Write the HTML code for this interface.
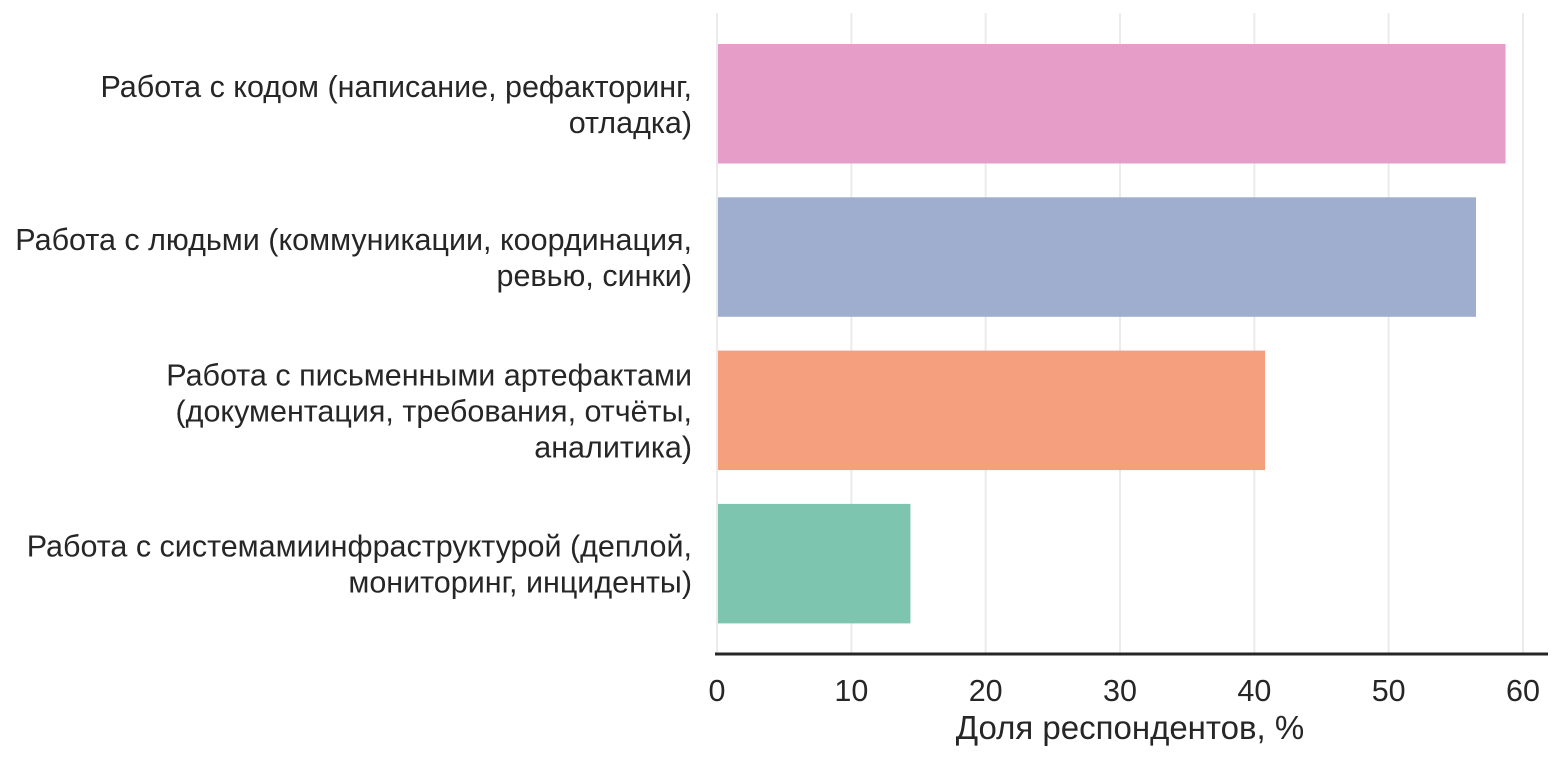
<!DOCTYPE html>
<html><head><meta charset="utf-8"><style>
html,body{margin:0;padding:0;background:#fff;}
svg{display:block;font-family:"Liberation Sans",Arial,sans-serif;}
</style></head><body>
<svg id="chart" width="1560" height="757"></svg>
<script>
const categories = [
  ["Работа с кодом (написание, рефакторинг,", "отладка)"],
  ["Работа с людьми (коммуникации, координация,", "ревью, синки)"],
  ["Работа с письменными артефактами", "(документация, требования, отчёты,", "аналитика)"],
  ["Работа с системамиинфраструктурой (деплой,", "мониторинг, инциденты)"]
];
const values = [58.7, 56.5, 40.8, 14.4];
const colors = ["#e69dc8", "#9fadcf", "#f69f7f", "#7dc5ae"];
const ticks = [0, 10, 20, 30, 40, 50, 60];
const xTitle = "Доля респондентов, %";

const NS = "http://www.w3.org/2000/svg";
const svg = document.getElementById('chart');
const x0 = 717, pxPer = (1523 - 717) / 60;
const xs = v => x0 + v * pxPer;
const bandTop = 44, bandStep = 153.3, barH = 119.5;
function mk(tag, attrs, parent) {
  const e = document.createElementNS(NS, tag);
  for (const k in attrs) e.setAttribute(k, attrs[k]);
  (parent || svg).appendChild(e);
  return e;
}
ticks.forEach(t => {
  const g = mk('line', {x1: xs(t), x2: xs(t), y1: 13, y2: 653, stroke: '#ebebeb', 'stroke-width': 2});
  
  
});
values.forEach((v, i) => {
  const y = bandTop + i * bandStep;
  const r = mk('rect', {x: xs(0) + 1, y: y, width: xs(v) - xs(0) - 1, height: barH, fill: colors[i]});
  
  
  const lines = categories[i];
  const cy = y + barH / 2;
  const lh = 36;
  const t = mk('text', {'font-size': 30.5, fill: '#262626', 'text-anchor': 'end'});
  
  
  lines.forEach((ln, j) => {
    const ts = mk('tspan', {x: 692, y: cy + (j - (lines.length - 1) / 2) * lh + 11}, t);
    ts.textContent = ln;
  });
});
const ax = mk('line', {x1: 715, x2: 1548, y1: 654, y2: 654, stroke: '#262626', 'stroke-width': 3});


ticks.forEach(t => {
  const tl = mk('text', {x: xs(t), y: 701, 'font-size': 30.5, fill: '#262626', 'text-anchor': 'middle'});
  
  
  tl.textContent = t;
});
const tt = mk('text', {x: 1130, y: 739, 'font-size': 33, fill: '#262626', 'text-anchor': 'middle'});


tt.textContent = xTitle;
</script>
</body></html>
